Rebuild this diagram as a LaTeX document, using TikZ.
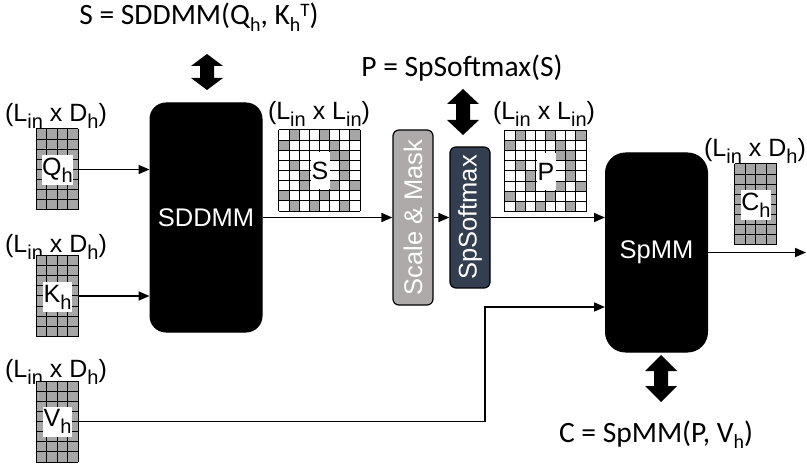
\documentclass[tikz,border=0pt]{standalone}
\usepackage{fontspec}
\setmainfont{Liberation Sans}
\newfontfamily\eqfont{Carlito}
\usetikzlibrary{arrows.meta}

\definecolor{cellgray}{HTML}{A6A6A6}
\definecolor{maskgray}{HTML}{AEAAAA}
\definecolor{softnavy}{HTML}{333F50}

% sub/superscripts for the sans labels and the Carlito formulas
\newcommand\lsub[1]{\raisebox{-0.28em}{\fontsize{20}{20}\selectfont #1}}
\newcommand\esub[1]{\raisebox{-6.5pt}{\fontsize{20}{20}\selectfont #1}}
\newcommand\esup[1]{\raisebox{8pt}{\fontsize{19}{19}\selectfont #1}}

% grid lines over a matrix node: #1 node, #2 cols, #3 rows, #4 cell width, #5 cell height
\newcommand\cellgrid[5]{%
  \foreach \i in {0,...,#2}
    \draw[gridline] (#1.north west) ++(\i*#4pt,0) -- ++(0,-#3*#5pt);
  \foreach \j in {0,...,#3}
    \draw[gridline] (#1.north west) ++(0,-\j*#5pt) -- ++(#2*#4pt,0);
}

% gray cells of a sparse 8x8 matrix (column/row)
\newcommand\sparsecells[1]{%
  \foreach \c/\r in {2/1,5/1,8/1, 1/2,6/2, 6/3,7/3, 2/4,7/4, 3/5,7/5,
                     3/6,6/6,8/6, 1/7,5/7, 2/8,4/8,7/8}
    \fill[cellgray] (#1.north west) ++({(\c-1)*10.15pt},{-(\r-1)*10.15pt})
      rectangle ++(10.15pt,-10.15pt);
}

% vertical two-headed block arrow: centre x, top y, bottom y, head length
\newcommand\dblarrow[4]{%
  \fill (#1-16,#2+#4) -- (#1,#2) -- (#1+16,#2+#4) -- (#1+7,#2+#4)
     -- (#1+7,#3-#4) -- (#1+16,#3-#4) -- (#1,#3) -- (#1-16,#3-#4)
     -- (#1-7,#3-#4) -- (#1-7,#2+#4) -- cycle;
}

\tikzset{
  lbl/.style={font=\fontsize{25}{25}\selectfont, inner sep=0pt, anchor=base},
  eqn/.style={font=\eqfont\fontsize{29.5}{29.5}\selectfont, inner sep=0pt, anchor=base},
  opbox/.style={fill=black, draw=black, line width=1pt, text=white,
                font=\fontsize{25.5}{25.5}\selectfont, inner sep=0pt},
  stagebox/.style={draw=black, line width=1.2pt, rounded corners=6pt, text=white,
                   font=\fontsize{25.5}{25.5}\selectfont, inner sep=0pt, minimum width=40pt},
  flow/.style={line width=1.6pt, -{Triangle[length=11pt,width=9pt]}},
  tag/.style={fill=white, inner sep=0pt, font=\fontsize{25}{25}\selectfont},
  mat/.style={inner sep=0pt, outer sep=0pt},
  colmat/.style={mat, fill=cellgray, minimum width=42pt, minimum height=81pt},
  sqmat/.style={mat, fill=white, minimum width=81.2pt, minimum height=81.2pt},
  gridline/.style={line width=1pt, black},
}

\begin{document}
\begin{tikzpicture}[x=1pt,y=-1pt]
\useasboundingbox (0,0) rectangle (807,468);

% ---- formulas and their block arrows
\node[eqn] (eqS) at (199,25) {S = SDDMM(Q\esub{h}, K\esub{h}\esup{T})};
\dblarrow{207}{54}{90}{12}
\node[eqn] (eqP) at (462,77) {P = SpSoftmax(S)};
\dblarrow{463}{89}{135}{15}
\node[eqn] (eqC) at (656,442) {C = SpMM(P, V\esub{h})};
\dblarrow{661}{355}{402}{16}

% ---- dense input matrices Q, K, V
\node[lbl] at (56,122) {(L\lsub{in} x D\lsub{h})};
\node[colmat] (Qm) at (57,169.5) {};
\cellgrid{Qm}{4}{8}{10.5}{10.125}
\node[tag, minimum width=29pt, minimum height=30pt] (Qt) at (57.5,170) {Q\lsub{h}};

\node[lbl] at (56,253) {(L\lsub{in} x D\lsub{h})};
\node[colmat] (Km) at (57,296) {};
\cellgrid{Km}{4}{8}{10.5}{10.125}
\node[tag, minimum width=29pt, minimum height=30pt] (Kt) at (57.5,297) {K\lsub{h}};

\node[lbl] at (56,377) {(L\lsub{in} x D\lsub{h})};
\node[colmat] (Vm) at (57,421.5) {};
\cellgrid{Vm}{4}{8}{10.5}{10.125}
\node[tag, minimum width=29pt, minimum height=30pt] (Vt) at (57.5,421.5) {V\lsub{h}};

% ---- operators
\node[opbox, rounded corners=16pt, minimum width=112pt, minimum height=229pt]
  (sddmm) at (206,217.5) {SDDMM};
\node[stagebox, fill=maskgray, minimum height=175pt] (mask) at (413,217.5)
  {\rotatebox{90}{Scale \& Mask}};
\node[stagebox, fill=softnavy, minimum height=141pt] (soft) at (470,217.5)
  {\rotatebox{90}{SpSoftmax}};
\node[opbox, rounded corners=20pt, minimum width=102pt, minimum height=199pt]
  (spmm) at (656.5,252.5) {SpMM};

% ---- sparse score matrices S and P
\node[lbl] at (319,120) {(L\lsub{in} x L\lsub{in})};
\node[sqmat] (Sm) at (319.5,170.5) {};
\sparsecells{Sm}
\cellgrid{Sm}{8}{8}{10.15}{10.15}
\node[tag, minimum width=19pt, minimum height=37pt] (St) at (320,171) {S};

\node[lbl] at (544,120) {(L\lsub{in} x L\lsub{in})};
\node[sqmat] (Pm) at (545.5,171) {};
\sparsecells{Pm}
\cellgrid{Pm}{8}{8}{10.15}{10.15}
\node[tag, minimum width=19pt, minimum height=37pt] (Pt) at (546,171.5) {P};

% ---- output matrix C
\node[lbl] at (755,157) {(L\lsub{in} x D\lsub{h})};
\node[colmat] (Cm) at (755.5,204.5) {};
\cellgrid{Cm}{4}{8}{10.5}{10.125}
\node[tag, minimum width=28pt, minimum height=30pt] (Ct) at (756,205) {C\lsub{h}};

% ---- data flow
\draw[flow] (Qm.east) -- (Qm.east -| sddmm.west);
\draw[flow] (Km.east) -- (Km.east -| sddmm.west);
\draw[flow] (sddmm.east) -- (mask.west);
\draw[flow] (mask.east) -- (soft.west);
\draw[flow] (soft.east) -- (soft.east -| spmm.west);
\coordinate (vbend) at (485,307);
\draw[flow] (Vm.east) -| (vbend) -- (vbend -| spmm.west);
\coordinate (out) at (806,252.5);
\draw[flow] (spmm.east) -- (out);
\end{tikzpicture}
\end{document}
